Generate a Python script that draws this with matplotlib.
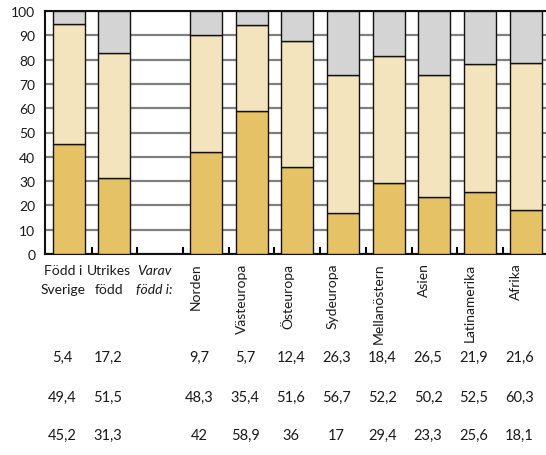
import numpy as np
import matplotlib.pyplot as plt
import matplotlib.font_manager as fm

# font: humanist sans, like the original
names = set(f.name for f in fm.fontManager.ttflist)
fam = 'Lato' if 'Lato' in names else 'DejaVu Sans'
plt.rcParams['font.family'] = [fam, 'DejaVu Sans']

# data (percent)
kategorier = ['Född i\nSverige', 'Utrikes\nfödd', 'Varav\nfödd i:', 'Norden', 'Västeuropa',
              'Östeuropa', 'Sydeuropa', 'Mellanöstern', 'Asien', 'Latinamerika', 'Afrika']
grupp3 = [5.4, 17.2, None, 9.7, 5.7, 12.4, 26.3, 18.4, 26.5, 21.9, 21.6]   # top, grey
grupp2 = [49.4, 51.5, None, 48.3, 35.4, 51.6, 56.7, 52.2, 50.2, 52.5, 60.3]  # middle
grupp1 = [45.2, 31.3, None, 42, 58.9, 36, 17, 29.4, 23.3, 25.6, 18.1]      # bottom

c1 = '#e5c266'
c2 = '#f3e4bd'
c3 = '#d4d4d4'
tc = '#1a1a1a'

fig = plt.figure(figsize=(5.46, 4.56), dpi=100)
ax = fig.add_axes([45/546, 1-255/456, 1-45/546, (255-12)/456])

x = np.arange(len(kategorier))
idx = [i for i in x if grupp1[i] is not None]
b1 = np.array([grupp1[i] for i in idx])
b2 = np.array([grupp2[i] for i in idx])
b3 = np.array([grupp3[i] for i in idx])
w = 0.70
kw = dict(width=w, edgecolor='#111111', linewidth=1.0, zorder=3)
ax.bar(idx, b1, color=c1, **kw)
ax.bar(idx, b2, bottom=b1, color=c2, **kw)
ax.bar(idx, b3, bottom=b1 + b2, color=c3, **kw)

ax.set_xlim(-0.52, 10.44)
ax.set_ylim(0, 100)
ax.set_yticks(range(0, 101, 10))
ax.yaxis.grid(True, color='#808080', linewidth=1.6, zorder=0)
ax.set_axisbelow(True)
ax.tick_params(axis='y', length=0, pad=7, labelsize=10, colors=tc)
ax.set_xticks(np.arange(0.5, 10, 1))
ax.tick_params(axis='x', direction='in', length=5, width=1.5, labelbottom=False)
for s in ['left', 'bottom', 'top']:
    ax.spines[s].set_linewidth(1.5)
    ax.spines[s].set_color('#111111')
ax.spines['right'].set_visible(False)

# category labels
tr = ax.get_xaxis_transform()
for i, lab in enumerate(kategorier):
    if i < 3:
        st = 'italic' if i == 2 else 'normal'
        ax.text(i - 0.12, -0.04, lab, transform=tr, ha='center', va='top',
                fontsize=10, style=st, linespacing=1.75, color=tc)
    else:
        ax.text(i - 0.22, -0.035, lab, transform=tr, ha='center', va='top',
                rotation=90, fontsize=10, color=tc)

# value table
rader = [grupp3, grupp2, grupp1]
ypos = [-0.425, -0.59, -0.745]
for r, yy in zip(rader, ypos):
    for i, v in enumerate(r):
        if v is None:
            continue
        txt = ('%g' % v).replace('.', ',')
        ax.text(i - 0.14, yy, txt, transform=tr, ha='center', va='center',
                fontsize=10.5, color=tc)

fig.savefig('out.png', dpi=100)
